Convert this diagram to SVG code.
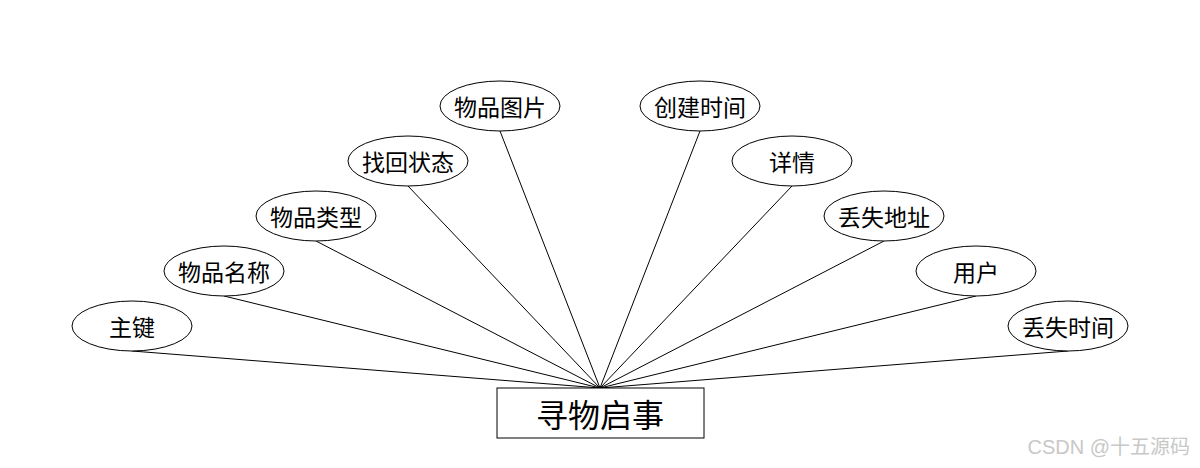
<svg xmlns="http://www.w3.org/2000/svg" width="1200" height="468" viewBox="0 0 1200 468">
<style>
.e{fill:#fff;stroke:#000;stroke-width:1}
.t{font-family:"Noto Sans CJK SC",sans-serif;font-size:23px;text-anchor:middle;dominant-baseline:central;fill:#000}
.c line{stroke:#000;stroke-width:1}
</style>
<rect width="1200" height="468" fill="#fff"/>
<g class="c" id="connectors">
<line x1="132" y1="351" x2="600" y2="388"/>
<line x1="224" y1="296" x2="600" y2="388"/>
<line x1="316" y1="241" x2="600" y2="388"/>
<line x1="408" y1="186" x2="600" y2="388"/>
<line x1="500" y1="131" x2="600" y2="388"/>
<line x1="700" y1="131" x2="600" y2="388"/>
<line x1="792" y1="186" x2="600" y2="388"/>
<line x1="884" y1="241" x2="600" y2="388"/>
<line x1="976" y1="296" x2="600" y2="388"/>
<line x1="1068" y1="351" x2="600" y2="388"/>
</g>
<g id="n1"><ellipse class="e" cx="132" cy="326" rx="60" ry="25"/><text class="t" x="132" y="326">主键</text></g>
<g id="n2"><ellipse class="e" cx="224" cy="271" rx="60" ry="25"/><text class="t" x="224" y="271">物品名称</text></g>
<g id="n3"><ellipse class="e" cx="316" cy="216" rx="60" ry="25"/><text class="t" x="316" y="216">物品类型</text></g>
<g id="n4"><ellipse class="e" cx="408" cy="161" rx="60" ry="25"/><text class="t" x="408" y="161">找回状态</text></g>
<g id="n5"><ellipse class="e" cx="500" cy="106" rx="60" ry="25"/><text class="t" x="500" y="106">物品图片</text></g>
<g id="n6"><ellipse class="e" cx="700" cy="106" rx="60" ry="25"/><text class="t" x="700" y="106">创建时间</text></g>
<g id="n7"><ellipse class="e" cx="792" cy="161" rx="60" ry="25"/><text class="t" x="792" y="161">详情</text></g>
<g id="n8"><ellipse class="e" cx="884" cy="216" rx="60" ry="25"/><text class="t" x="884" y="216">丢失地址</text></g>
<g id="n9"><ellipse class="e" cx="976" cy="271" rx="60" ry="25"/><text class="t" x="976" y="271">用户</text></g>
<g id="n10"><ellipse class="e" cx="1068" cy="326" rx="60" ry="25"/><text class="t" x="1068" y="326">丢失时间</text></g>
<g id="entity"><rect x="497" y="388" width="207" height="50" fill="#fff" stroke="#000" stroke-width="1"/><text class="t" x="600" y="413" style="font-size:32px">寻物启事</text></g>
<text x="1190" y="454" text-anchor="end" font-family="'Liberation Sans','Noto Sans CJK SC',sans-serif" font-size="20" fill="#c8c8c8">CSDN @十五源码</text>
</svg>
